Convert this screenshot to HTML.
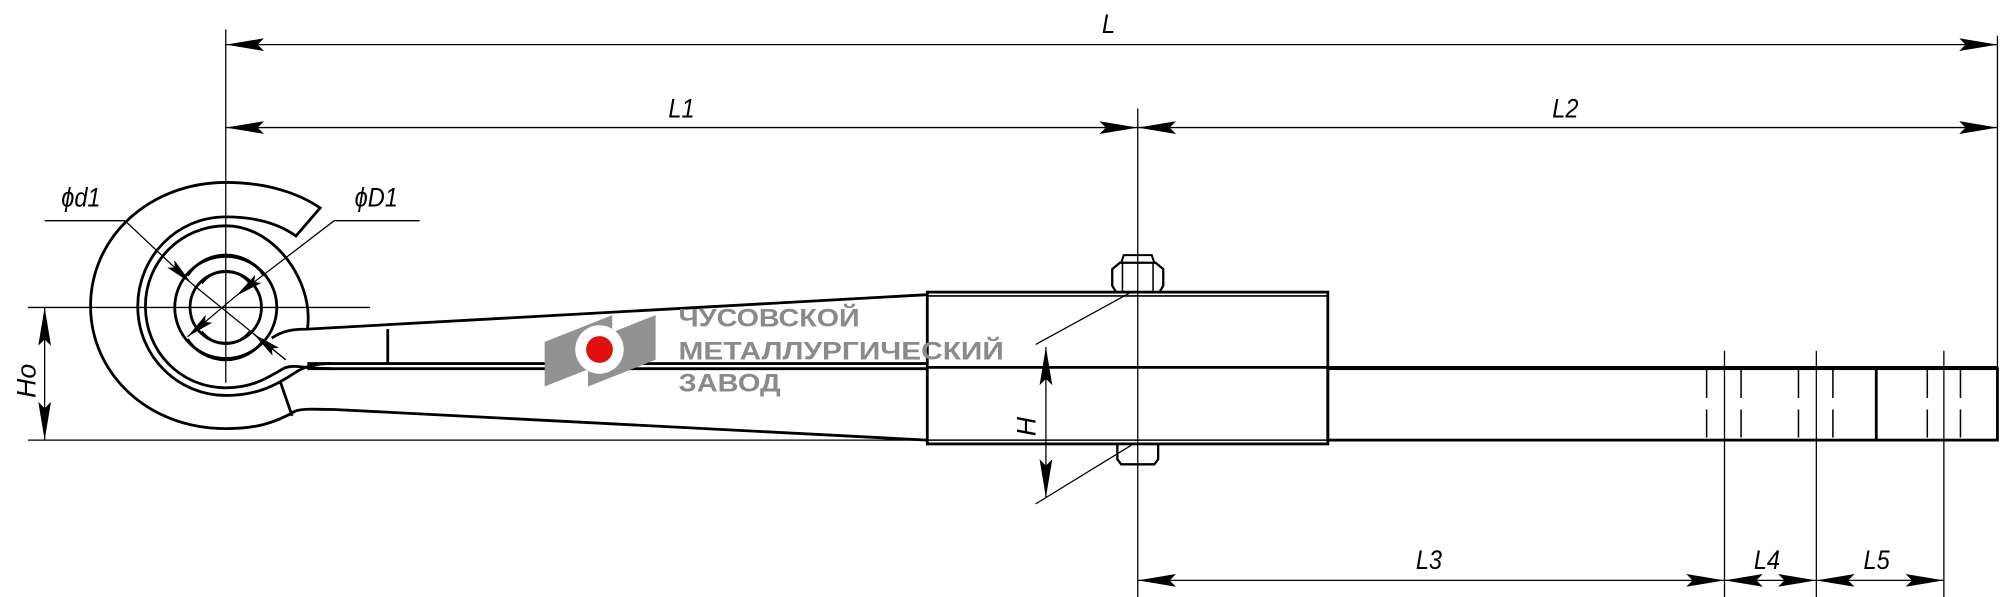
<!DOCTYPE html>
<html><head><meta charset="utf-8"><style>html,body{margin:0;padding:0;background:#fff}svg{display:block}</style></head>
<body>
<svg width="2000" height="597" viewBox="0 0 1568 468" preserveAspectRatio="none" xmlns="http://www.w3.org/2000/svg">
<defs>
<marker id="a" viewBox="0 0 30 10" refX="30" refY="5" markerWidth="30" markerHeight="10" markerUnits="userSpaceOnUse" orient="auto-start-reverse">
<path d="M30,5 L0,0 L5,5 L0,10 Z" fill="#000"/>
</marker>
<marker id="s" viewBox="0 0 22 8" refX="22" refY="4" markerWidth="22" markerHeight="8" markerUnits="userSpaceOnUse" orient="auto-start-reverse">
<path d="M22,4 L0,0 L4,4 L0,8 Z" fill="#000"/>
</marker>
</defs>
<rect width="1568" height="468" fill="#fff"/>
<g stroke="#000" fill="none" stroke-width="1">
<line x1="177" y1="23" x2="177" y2="300"/>
<line x1="892" y1="85" x2="892" y2="468"/>
<line x1="1566" y1="28" x2="1566" y2="290"/>
<line x1="1352" y1="275" x2="1352" y2="468"/>
<line x1="1424" y1="275" x2="1424" y2="468"/>
<line x1="1524" y1="275" x2="1524" y2="468"/>
<line x1="177" y1="35" x2="1566" y2="35" marker-start="url(#a)" marker-end="url(#a)"/>
<line x1="177" y1="100" x2="892" y2="100" marker-start="url(#a)" marker-end="url(#a)"/>
<line x1="892" y1="100" x2="1566" y2="100" marker-start="url(#a)" marker-end="url(#a)"/>
<line x1="892" y1="455" x2="1352" y2="455" marker-start="url(#a)" marker-end="url(#a)"/>
<line x1="1352" y1="455" x2="1424" y2="455" marker-start="url(#a)" marker-end="url(#a)"/>
<line x1="1424" y1="455" x2="1524" y2="455" marker-start="url(#a)" marker-end="url(#a)"/>
<line x1="22" y1="241" x2="290" y2="241"/>
<line x1="22" y1="345" x2="727" y2="345"/>
<line x1="35" y1="241" x2="35" y2="345" marker-start="url(#a)" marker-end="url(#a)"/>
<line x1="812" y1="270" x2="887" y2="229"/>
<line x1="812" y1="395" x2="887" y2="349"/>
<line x1="820" y1="272" x2="820" y2="390" marker-start="url(#a)" marker-end="url(#a)"/>
<line x1="35" y1="173" x2="98" y2="173"/>
<line x1="98" y1="173" x2="150" y2="222" marker-end="url(#s)"/>
<line x1="150" y1="222" x2="224" y2="282"/>
<line x1="224" y1="282" x2="199" y2="262" marker-end="url(#s)"/>
<line x1="329" y1="173" x2="262" y2="173"/>
<line x1="262" y1="173" x2="185" y2="232" marker-end="url(#s)"/>
<line x1="185" y1="232" x2="147" y2="264" marker-end="url(#s)"/>
</g>
<g stroke="#000" fill="none" stroke-width="2.2">
<path d="M232,322 C215,332 200,336 177,336 C115,336 71,292 71,240 C71,185 118,143 177,143 C210,143 235,152 251,163 L232,185 C218,175 200,170 177,170 C138,170 108,202 108,240 C108,280 140,310 177,310 C200,310 215,303 230,293 C240,286 250,285 260,285"/>
<path d="M241,258 C245,232 230,200 205,185 C195,179 186,177 177,177 C142,177 114,205 114,240 C114,276 142,304 177,304 C198,304 210,296 222,289"/>
<path d="M222,289 C230,285 236,289 260,289"/>
<path d="M213,265 C222,259 230,258 241,258 L727,231"/>
<path d="M232,322 C240,320 248,321 262,321 L727,345"/>
<line x1="220" y1="300" x2="229" y2="326"/>
<line x1="304" y1="258" x2="304" y2="285"/>
<line x1="241" y1="285" x2="727" y2="285"/>
<line x1="241" y1="289" x2="727" y2="289"/>
<circle cx="177" cy="241" r="40"/>
<path d="M147,216 A36,36 0 0 1 207,216"/>
<path d="M207,266 A36,36 0 0 1 147,266"/>
<circle cx="177" cy="241" r="28"/>
<path d="M158,222 A24,24 0 0 1 196,222"/>
<path d="M196,260 A24,24 0 0 1 158,260"/>
<rect x="727" y="229" width="314" height="119"/>
<line x1="727" y1="232" x2="1041" y2="232" stroke-width="1.2"/>
<line x1="727" y1="345" x2="1041" y2="345" stroke-width="1.2"/>
<line x1="727" y1="288" x2="1566" y2="288"/>
<rect x="1041" y="289" width="525" height="56"/>
<line x1="1471" y1="289" x2="1471" y2="345"/>
<path d="M875,229 L872,224 L872,211 L878,206 L906,206 L912,211 L912,224 L909,229 Z" stroke-width="1.8"/>
<line x1="880" y1="206" x2="880" y2="229" stroke-width="1.2"/>
<line x1="904" y1="206" x2="904" y2="229" stroke-width="1.2"/>
<path d="M879,206 L881,200 L903,200 L905,206" stroke-width="1.6"/>
<path d="M876,348 L876,360 L879,364 L905,364 L908,360 L908,348" stroke-width="1.8"/>
</g>
<g stroke="#000" stroke-width="1.2">
<path d="M1338,290V312M1338,321V343M1365,290V312M1365,321V343M1410,290V312M1410,321V343M1437,290V312M1437,321V343M1511,290V312M1511,321V343M1537,290V312M1537,321V343"/>
</g>
<polygon points="427,268 480,247 480,282 427,303" fill="#929292"/>
<polygon points="461,268 514,247 514,282 461,303" fill="#929292"/>
<circle cx="470" cy="274" r="19" fill="#fff"/>
<circle cx="470" cy="274" r="10.5" fill="#e01010"/>
<g font-family="Liberation Sans, sans-serif" fill="#8a8a8a" font-size="19.5" font-weight="bold">
<text x="532" y="256" textLength="142" lengthAdjust="spacingAndGlyphs">ЧУСОВСКОЙ</text>
<text x="532" y="282" textLength="255" lengthAdjust="spacingAndGlyphs">МЕТАЛЛУРГИЧЕСКИЙ</text>
<text x="532" y="307" textLength="80" lengthAdjust="spacingAndGlyphs">ЗАВОД</text>
</g>
<g font-family="Liberation Sans, sans-serif" font-style="italic" font-size="21" fill="#000">
<text transform="translate(864,26) scale(0.88,1)">L</text>
<text transform="translate(524,92) scale(0.88,1)">L1</text>
<text transform="translate(1217,92) scale(0.88,1)">L2</text>
<text transform="translate(1110,446) scale(0.88,1)">L3</text>
<text transform="translate(1375,446) scale(0.88,1)">L4</text>
<text transform="translate(1461,446) scale(0.88,1)">L5</text>
<text transform="translate(48,162) scale(0.88,1)">ϕd1</text>
<text transform="translate(278,162) scale(0.88,1)">ϕD1</text>
<text transform="translate(28,312) rotate(-90)">Ho</text>
<text transform="translate(812,342) rotate(-90)">H</text>
</g>
</svg>
</body></html>
